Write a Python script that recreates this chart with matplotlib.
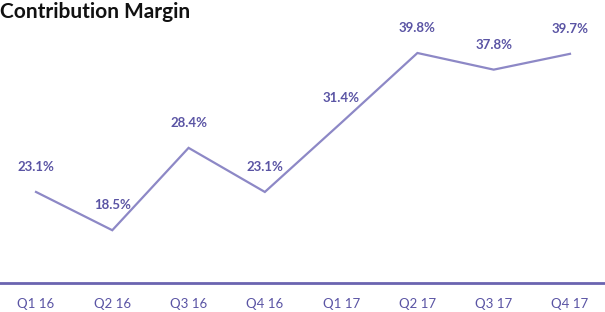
import matplotlib.pyplot as plt

# data
quarters = ['Q1 16', 'Q2 16', 'Q3 16', 'Q4 16', 'Q1 17', 'Q2 17', 'Q3 17', 'Q4 17']
margin = [23.1, 18.5, 28.4, 23.1, 31.4, 39.8, 37.8, 39.7]

line_color = '#8d88c6'
label_color = '#5a54a4'
axis_color = '#6a64b0'

plt.rcParams['font.family'] = ['Lato', 'DejaVu Sans']

fig = plt.figure(figsize=(6.05, 3.12), dpi=100)
ax = fig.add_axes([0, 0.093, 1, 0.811])

x = list(range(len(quarters)))
ax.plot(x, margin, color=line_color, linewidth=1.6, solid_joinstyle='miter')

for xi, v in zip(x, margin):
    ax.annotate(f'{v:.1f}%', (xi, v), xytext=(0, 18), textcoords='offset points',
                ha='center', va='center', fontsize=9.5, fontweight='bold', color=label_color)

ax.set_xlim(-0.472, 7.459)
ax.set_ylim(12.16, 42.57)
ax.set_xticks(x)
ax.set_xticklabels(quarters, fontsize=9.5, color=label_color)
ax.tick_params(axis='x', length=0, pad=11)
ax.set_yticks([])

for side in ['top', 'right', 'left']:
    ax.spines[side].set_visible(False)
ax.spines['bottom'].set_color(axis_color)
ax.spines['bottom'].set_linewidth(2)

fig.text(0.0, 0.96, 'Contribution Margin', fontsize=15, fontweight='bold',
         color='#111111', ha='left', va='center')

fig.savefig('out.png', dpi=100)
